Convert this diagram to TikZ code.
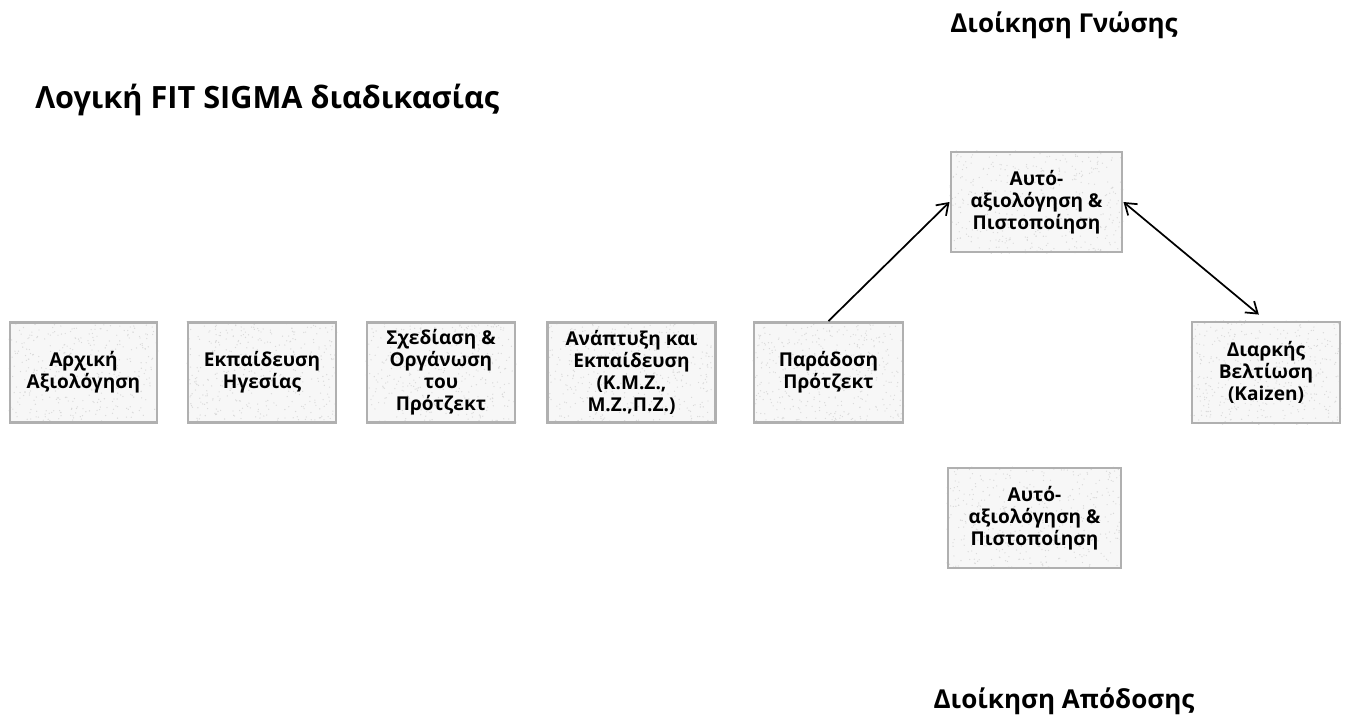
\documentclass[tikz,border=0pt]{standalone}
\usepackage{fontspec}
\setmainfont{Open Sans}
\usetikzlibrary{arrows.meta,calc}
\pgfdeclarelayer{background}
\pgfsetlayers{background,main}

\tikzset{
  stage/.style={draw=gray!62, line width=2.2pt, fill=none, align=center,
    inner sep=0pt, font=\bfseries\fontsize{14.3}{16.5}\selectfont},
  heading/.style={font=\bfseries\fontsize{19.5}{22}\selectfont, inner sep=0pt},
  maintitle/.style={font=\bfseries\fontsize{23}{26}\selectfont, inner sep=0pt},
  link/.style={line width=1.3pt, black, -{Straight Barb[length=8pt,width=11pt,line width=1.3pt]}},
  duplex/.style={line width=1.3pt, black, {Straight Barb[length=8pt,width=11pt,line width=1.3pt]}-{Straight Barb[length=8pt,width=11pt,line width=1.3pt]}}
}

% light granite-like fill behind a named box
\newcommand{\granite}[1]{%
  \begin{pgfonlayer}{background}
    \fill[gray!6] (#1.south west) rectangle (#1.north east);
    \begin{scope}
      \clip (#1.south west) rectangle (#1.north east);
      \foreach \k in {1,...,420} {
        \fill[gray!30] let \p1=(#1.south west), \p2=(#1.north east) in
          ({\x1+rnd*(\x2-\x1)},{\y1+rnd*(\y2-\y1)}) circle (0.5pt);
      }
    \end{scope}
  \end{pgfonlayer}}

\begin{document}
\begin{tikzpicture}[x=0.75pt,y=-0.75pt]
\pgfmathsetseed{7}
\useasboundingbox (0,0) rectangle (1345,717);

% headings
\node[maintitle, anchor=west] (title) at (35,100) {Λογική FIT SIGMA διαδικασίας};
\node[heading] (knowledge) at (1064,25) {Διοίκηση Γνώσης};
\node[heading] (performance) at (1064,701) {Διοίκηση Απόδοσης};

% process stages
\node[stage, minimum width=147*0.75pt, minimum height=100*0.75pt] (s1) at (83.5,372.5) {Αρχική\\Αξιολόγηση};
\node[stage, minimum width=148*0.75pt, minimum height=100*0.75pt] (s2) at (262,372.5) {Εκπαίδευση\\Ηγεσίας};
\node[stage, minimum width=148*0.75pt, minimum height=100*0.75pt] (s3) at (441,372.5) {Σχεδίαση \&\\Οργάνωση\\του\\Πρότζεκτ};
\node[stage, minimum width=168*0.75pt, minimum height=100*0.75pt] (s4) at (631.5,372.5) {Ανάπτυξη και\\Εκπαίδευση\\(Κ.Μ.Ζ.,\\Μ.Ζ.,Π.Ζ.)};
\node[stage, minimum width=149*0.75pt, minimum height=100*0.75pt] (s5) at (828.5,372.5) {Παράδοση\\Πρότζεκτ};
\node[stage, minimum width=171*0.75pt, minimum height=100*0.75pt] (cert) at (1036.5,202) {Αυτό-\\αξιολόγηση \&\\Πιστοποίηση};
\node[stage, minimum width=148*0.75pt, minimum height=101*0.75pt] (kaizen) at (1266,372.5) {Διαρκής\\Βελτίωση\\(Kaizen)};
\node[stage, minimum width=173*0.75pt, minimum height=100*0.75pt] (cert2) at (1034.5,518) {Αυτό-\\αξιολόγηση \&\\Πιστοποίηση};

\foreach \b in {s1,s2,s3,s4,s5,cert,kaizen,cert2} {\granite{\b}}

% connectors
\draw[link] (s5.north) -- (cert.west);
\draw[duplex, shorten >=7pt] (cert.east) -- (kaizen.north);
\end{tikzpicture}
\end{document}
